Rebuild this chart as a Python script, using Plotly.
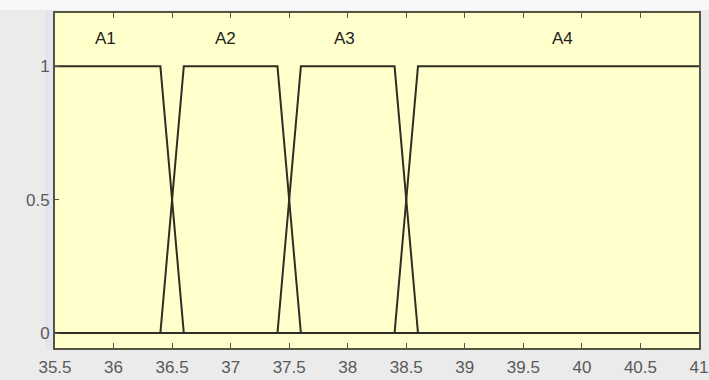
import plotly.graph_objects as go

# Membership functions (trapezoids): x-breakpoints and y-values
mf_names = ["A1", "A2", "A3", "A4"]
mf_x = [
    [35.5, 36.4, 36.6, 41.0],
    [35.5, 36.4, 36.6, 37.4, 37.6, 41.0],
    [35.5, 37.4, 37.6, 38.4, 38.6, 41.0],
    [35.5, 38.4, 38.6, 41.0],
]
mf_y = [
    [1, 1, 0, 0],
    [0, 0, 1, 1, 0, 0],
    [0, 0, 1, 1, 0, 0],
    [0, 0, 1, 1],
]
label_x = [35.93, 36.96, 37.97, 39.83]
label_y = [1.105, 1.105, 1.105, 1.105]

x_ticks = [35.5, 36, 36.5, 37, 37.5, 38, 38.5, 39, 39.5, 40, 40.5, 41]
y_ticks = [0, 0.5, 1]

fig = go.Figure()
for name, xs, ys in zip(mf_names, mf_x, mf_y):
    fig.add_trace(go.Scatter(x=xs, y=ys, mode="lines", name=name,
                             line=dict(color="#2e2e22", width=2),
                             showlegend=False, hoverinfo="skip"))

for name, lx, ly in zip(mf_names, label_x, label_y):
    fig.add_annotation(x=lx, y=ly, text=name, showarrow=False,
                       font=dict(family="Liberation Sans, Arial", size=17, color="#222222"))

# light strip above the axes and a faint band left of the axes
fig.add_shape(type="rect", xref="paper", yref="paper",
              x0=-0.2, x1=1.1, y0=1 + 3/335, y1=1 + 14/335,
              fillcolor="#f8f8f8", line=dict(width=0), layer="below")
fig.add_shape(type="rect", xref="paper", yref="paper",
              x0=-10/644, x1=-2/644, y0=-2/335, y1=1 + 3/335,
              fillcolor="#e4e4ee", line=dict(width=0), layer="below")

fig.update_layout(
    width=709, height=380,
    margin=dict(l=55, r=10, t=13, b=32, autoexpand=False),
    paper_bgcolor="#ebebeb",
    plot_bgcolor="#ffffcc",
    font=dict(family="Liberation Sans, Arial", size=17, color="#5a5a5a"),
)
fig.update_xaxes(range=[35.5, 41], tickvals=x_ticks,
                 ticktext=[("%g" % v) for v in x_ticks],
                 ticks="inside", ticklen=5, tickcolor="#555555",
                 ticklabelstandoff=3, automargin=False, ticklabeloverflow="allow",
                 showgrid=False, zeroline=False,
                 showline=True, linecolor="#555544", linewidth=2, mirror="ticks")
fig.update_yaxes(range=[-0.056, 1.2], tickvals=y_ticks,
                 ticktext=["0", "0.5", "1"],
                 ticks="inside", ticklen=4, tickcolor="#555555",
                 automargin=False,
                 showgrid=False, zeroline=False,
                 showline=True, linecolor="#555544", linewidth=2, mirror=True)

fig.write_html("out.html")
